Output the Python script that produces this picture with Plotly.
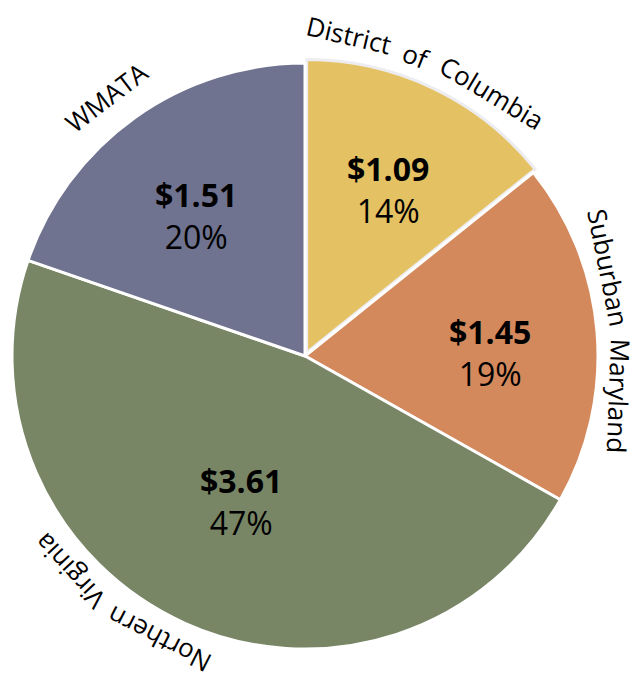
import math
import plotly.graph_objects as go

# ---- data ----
categories = ["District of Columbia", "Suburban Maryland", "Northern Virginia", "WMATA"]
values = [1.09, 1.45, 3.61, 1.51]
colors = ["#E4C162", "#D4895C", "#788666", "#6F738F"]

# ---- layout constants ----
W, H = 640, 679
PAGE_OFF = 8               # browser body margin
CX, CY = 305 - PAGE_OFF, 356 - PAGE_OFF   # pie centre in figure pixels
R = 293                    # pie radius in pixels
PULL = 0.013
half = R * (1 + PULL)

LABEL_SIZE = 26
# outer labels: (angle shift deg, radius of label middle px, curvature radius px, word gap px)
label_pos = [(-2.6, 320, 500, 15), (0, 313, 560, 13), (12.2, 319, 319, 13), (-2, 326, 326, 0)]

# inside value labels: (angle shift in degrees, radius in px)
inside_pos = [(0.8, 186), (3.7, 185), (-0.5, 159), (-2.2, 178)]
INSIDE_SIZE = 32

# approximate Open Sans advance widths (em)
CW = {" ": .26, "A": .633, "C": .631, "D": .722, "M": .903, "N": .746, "S": .549,
      "T": .556, "V": .585, "W": .928, "a": .556, "b": .613, "c": .476, "d": .613,
      "e": .561, "f": .339, "g": .548, "h": .614, "i": .253, "l": .253, "m": .930,
      "n": .614, "o": .604, "r": .408, "s": .477, "t": .353, "u": .614, "y": .501}


def text_width(s, size):
    return sum(CW.get(c, .55) for c in s) * size


def px_to_paper(px, py):
    return px / W, 1 - py / H


def polar(ang_deg, r):
    th = math.radians(ang_deg)
    return CX + r * math.sin(th), CY - r * math.cos(th)


fig = go.Figure(go.Pie(
    labels=categories,
    values=values,
    sort=False,
    direction="clockwise",
    rotation=0,
    pull=[PULL, 0, 0, 0],
    marker=dict(colors=colors,
                line=dict(color=["#EDEDF1", "white", "white", "white"], width=3)),
    textinfo="none",
    domain=dict(x=[(CX - half) / W, (CX + half) / W],
                y=[1 - (CY + half) / H, 1 - (CY - half) / H]),
    showlegend=False,
))

total = sum(values)
cum = 0.0
for cat, v, (off, rmid, rho, gap), (ioff, ir) in zip(categories, values, label_pos, inside_pos):
    mid = (cum + v / 2) / total * 360
    cum += v

    # value + percent inside the slice
    x, y = px_to_paper(*polar(mid + ioff, ir))
    pct = round(v / total * 100)
    fig.add_annotation(x=x, y=y, xref="paper", yref="paper",
                       text=f"<b>${v:.2f}</b><br>{pct}%", showarrow=False,
                       xanchor="center", yanchor="middle",
                       font=dict(family="Open Sans", size=INSIDE_SIZE, color="black"))

    # category name along a gentle arc outside the rim
    centre = mid + off
    th = math.radians(centre)
    ux, uy = math.sin(th), -math.cos(th)          # outward
    tx, ty = math.cos(th), math.sin(th)           # clockwise tangent
    mx, my = polar(centre, rmid)
    ccx, ccy = mx - rho * ux, my - rho * uy       # centre of the text arc
    words = cat.split(" ")
    widths = [text_width(w, LABEL_SIZE) for w in words]
    length = sum(widths) + gap * (len(words) - 1)
    pos = -length / 2
    for word, wd in zip(words, widths):
        s = pos + wd / 2
        phi = s / rho
        px = ccx + rho * (ux * math.cos(phi) + tx * math.sin(phi))
        py = ccy + rho * (uy * math.cos(phi) + ty * math.sin(phi))
        ang = centre + math.degrees(phi)
        ta = ((ang + 180) % 360) - 180
        x, y = px_to_paper(px, py)
        fig.add_annotation(x=x, y=y, xref="paper", yref="paper",
                           text=word, textangle=ta, showarrow=False,
                           xanchor="center", yanchor="middle",
                           font=dict(family="Open Sans", size=LABEL_SIZE, color="black"))
        pos += wd + gap

fig.update_layout(width=W, height=H, margin=dict(l=0, r=0, t=0, b=0),
                  paper_bgcolor="white", plot_bgcolor="white")

fig.write_html("out.html")
